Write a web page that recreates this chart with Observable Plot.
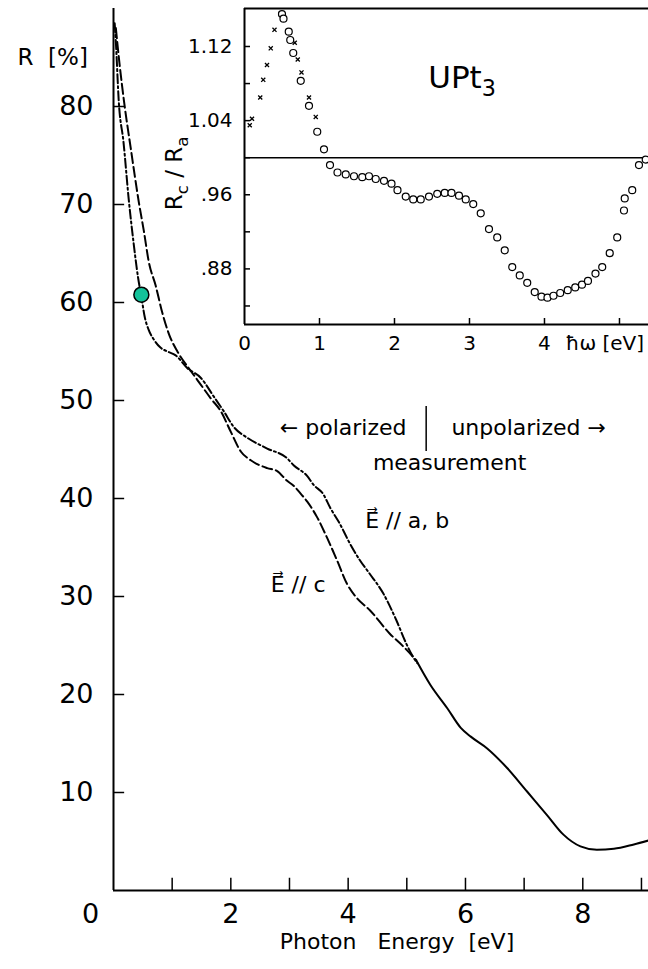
<!DOCTYPE html>
<html>
<head>
<meta charset="utf-8">
<script src="https://cdn.jsdelivr.net/npm/d3@7"></script>
<script src="https://cdn.jsdelivr.net/npm/@observablehq/plot@0.6"></script>
<style>
  html, body { margin: 0; padding: 0; background: #fff; }
  #figure { position: relative; width: 648px; height: 969px; overflow: hidden; background: #fff; }
  #figure svg { position: absolute; top: 0; }
</style>
</head>
<body>
<div id="figure"></div>
<script>
// Reflectivity of UPt3, R [%] versus photon energy [eV]
// E // a,b  (polarized, dash-dot)
const energyAB = [0.02, 0.04, 0.09, 0.17, 0.26, 0.34, 0.42, 0.475, 0.53, 0.60, 0.69, 0.80, 0.92, 1.06, 1.26, 1.49, 1.71, 1.88, 2.05, 2.28, 2.62, 2.96, 3.07, 3.30, 3.41, 3.58, 3.69, 3.86, 4.03, 4.20, 4.37, 4.60, 4.82, 4.99, 5.11, 5.18];
const reflAB   = [88.5, 86.6, 80.5, 76.4, 70.5, 66.2, 62.5, 60.6, 58.6, 57.2, 56.2, 55.4, 55.0, 54.6, 53.3, 52.3, 50.4, 48.9, 47.3, 46.2, 45.1, 44.1, 43.4, 42.3, 41.4, 40.4, 39.1, 37.4, 35.4, 33.7, 32.3, 30.3, 27.6, 25.2, 23.8, 23.2];
// E // c  (polarized, dashed)
const energyC = [0.04, 0.10, 0.18, 0.30, 0.43, 0.52, 0.60, 0.72, 0.83, 0.95, 1.09, 1.32, 1.49, 1.66, 1.83, 2.00, 2.17, 2.34, 2.62, 2.79, 2.96, 3.07, 3.19, 3.30, 3.47, 3.64, 3.81, 3.98, 4.14, 4.37, 4.71, 4.94, 5.16];
const reflC   = [88.0, 84.5, 80.5, 75.5, 70.3, 67.2, 64.2, 61.7, 59.0, 56.7, 55.0, 53.0, 51.6, 50.2, 48.9, 46.8, 44.8, 43.9, 43.1, 42.8, 41.8, 41.3, 40.5, 39.7, 38.1, 36.0, 33.7, 31.3, 29.9, 28.6, 26.2, 24.9, 23.5];
// unpolarized measurement (solid)
const energyUnpol = [5.16, 5.40, 5.69, 5.92, 6.09, 6.37, 6.71, 7.05, 7.39, 7.67, 7.96, 8.24, 8.53, 8.87, 9.12];
const reflUnpol   = [23.5, 21.0, 18.6, 16.6, 15.7, 14.5, 12.5, 10.1, 7.7, 5.7, 4.5, 4.15, 4.25, 4.7, 5.1];
// highlighted point
const markerEnergy = [0.475];
const markerRefl = [60.8];

// Inset: Rc / Ra versus photon energy
const ratioEnergy = [0.50, 0.52, 0.59, 0.61, 0.65, 0.75, 0.86, 0.97, 1.06, 1.14, 1.24, 1.35, 1.46, 1.57, 1.66, 1.75, 1.86, 1.96, 2.04, 2.15, 2.25, 2.35, 2.46, 2.57, 2.67, 2.76, 2.86, 2.95, 3.05, 3.15, 3.26, 3.37, 3.47, 3.57, 3.67, 3.77, 3.87, 3.96, 4.04, 4.12, 4.21, 4.31, 4.41, 4.50, 4.58, 4.68, 4.77, 4.87, 4.97, 5.06, 5.07, 5.17, 5.26, 5.35];
const ratioValue  = [1.155, 1.150, 1.136, 1.127, 1.113, 1.083, 1.056, 1.028, 1.009, 0.992, 0.984, 0.982, 0.980, 0.979, 0.980, 0.977, 0.975, 0.972, 0.965, 0.958, 0.955, 0.955, 0.958, 0.961, 0.962, 0.962, 0.959, 0.955, 0.950, 0.940, 0.923, 0.914, 0.900, 0.882, 0.873, 0.865, 0.855, 0.850, 0.849, 0.851, 0.854, 0.857, 0.860, 0.863, 0.867, 0.875, 0.882, 0.897, 0.914, 0.943, 0.956, 0.965, 0.992, 0.998];
const ratioLowEnergy = [0.07, 0.10, 0.21, 0.25, 0.30, 0.35, 0.40, 0.48, 0.67, 0.71, 0.76, 0.86, 0.95];
const ratioLowValue  = [1.035, 1.042, 1.065, 1.084, 1.100, 1.118, 1.138, 1.155, 1.124, 1.106, 1.092, 1.065, 1.044];

// ticks and tick labels
const xTicks = [1, 2, 3, 4, 5, 6, 7, 8, 9];
const xTickLabels = [2, 4, 6, 8];
const yTicks = [10, 20, 30, 40, 50, 60, 70, 80];
const insetXTicks = [1, 2, 3, 4, 5];
const insetXTickLabels = [0, 1, 2, 3, 4];
const insetYTicks = [0.84, 0.88, 0.92, 0.96, 1.00, 1.04, 1.08, 1.12];
const insetYTickLabels = [1.12, 1.04, 0.96, 0.88];

const font = "DejaVu Sans, Verdana, sans-serif";
const rows = (xs, ys) => xs.map((x, i) => ({x, y: ys[i]}));
const ratioFormat = d => d >= 1 ? d.toFixed(2) : d.toFixed(2).slice(1);
const k = v => () => v;

const main = Plot.plot({
  width: 648,
  height: 969,
  marginTop: 8,
  marginRight: 0,
  marginBottom: 79,
  marginLeft: 113,
  x: {domain: [0, 9.12], axis: null},
  y: {domain: [0, 90], axis: null},
  style: {fontFamily: font, background: "transparent", color: "black", overflow: "visible"},
  marks: [
    // axes with inward ticks
    Plot.ruleY([0], {y: d => d, strokeWidth: 2}),
    Plot.ruleX([0], {x: d => d, strokeWidth: 2}),
    Plot.ruleX(xTicks, {x: d => d, y1: k(0), y2: k(1.25), strokeWidth: 1.5}),
    Plot.ruleY(yTicks, {y: d => d, x1: k(0), x2: k(0.19), strokeWidth: 1.5}),
    Plot.text(xTickLabels, {x: d => d, y: k(0), dy: 24, text: String, fontSize: 27}),
    Plot.text([0], {x: d => d, y: d => d, dx: -23, dy: 24, text: String, fontSize: 27}),
    Plot.text(yTicks, {x: k(0), y: d => d, dx: -20, textAnchor: "end", text: String, fontSize: 27}),
    Plot.text(["R\u00a0\u00a0[%]"], {frameAnchor: "top-left", dx: -96, dy: 40, textAnchor: "start", fontSize: 23, text: d => d}),
    Plot.text(["Photon\u00a0\u00a0\u00a0Energy\u00a0\u00a0[eV]"], {frameAnchor: "bottom", dx: 16, dy: 58, fontSize: 22, text: d => d}),

    // reflectivity curves
    Plot.line(rows(energyC, reflC), {x: "x", y: "y", strokeWidth: 2, strokeDasharray: "10,4", curve: "monotone-x"}),
    Plot.line(rows(energyAB, reflAB), {x: "x", y: "y", strokeWidth: 2, strokeDasharray: "9,3,2,3", curve: "monotone-x"}),
    Plot.line(rows(energyUnpol, reflUnpol), {x: "x", y: "y", strokeWidth: 2, curve: "monotone-x"}),
    Plot.dot(rows(markerEnergy, markerRefl), {x: "x", y: "y", r: 7.5, fill: "#14c29a", stroke: "black", strokeWidth: 1.5}),

    // annotations
    Plot.text(["\u2190 polarized"], {x: k(4.995), y: k(47.2), textAnchor: "end", fontSize: 22, text: d => d}),
    Plot.ruleX([5.33], {x: d => d, y1: k(44.8), y2: k(49.4), strokeWidth: 1.5}),
    Plot.text(["unpolarized \u2192"], {x: k(5.76), y: k(47.2), textAnchor: "start", fontSize: 22, text: d => d}),
    Plot.text(["measurement"], {x: k(5.73), y: k(43.6), fontSize: 22, text: d => d}),
    Plot.text(["E\u20d7 // a, b"], {x: k(4.29), y: k(37.7), textAnchor: "start", fontSize: 22, text: d => d}),
    Plot.text(["E\u20d7 // c"], {x: k(2.68), y: k(31.2), textAnchor: "start", fontSize: 22, text: d => d})
  ]
});

const inset = Plot.plot({
  width: 498,
  height: 360,
  marginTop: 8,
  marginRight: 0,
  marginBottom: 36,
  marginLeft: 94,
  x: {domain: [0, 5.387], axis: null},
  y: {domain: [0.82, 1.161], axis: null},
  style: {fontFamily: font, background: "transparent", color: "black", overflow: "visible"},
  marks: [
    Plot.ruleX([0], {x: d => d, strokeWidth: 2}),
    Plot.ruleY([0.82, 1.161], {y: d => d, strokeWidth: 2}),
    Plot.ruleY([1], {y: d => d, strokeWidth: 1.5}),
    Plot.ruleX(insetXTicks, {x: d => d, y1: k(0.82), y2: k(0.82 + 6 / 926), strokeWidth: 1.5}),
    Plot.ruleY(insetYTicks, {y: d => d, x1: k(0), x2: k(6 / 75), strokeWidth: 1.5}),
    Plot.text(insetXTickLabels, {x: d => d, y: k(0.82), dy: 19, fontSize: 20, text: String}),
    Plot.text(["\u0127\u03c9\u00a0[eV]"], {x: k(4.28), y: k(0.82), dy: 19, textAnchor: "start", fontSize: 20, text: d => d}),
    Plot.text(insetYTickLabels, {x: k(0), y: d => d, dx: -12, textAnchor: "end", fontSize: 20, text: ratioFormat}),
    Plot.text(["R_c / R_a"], {x: k(-0.827), y: k(0.983), rotate: -90, lineAnchor: "bottom", fontSize: 23, text: d => d}),
    Plot.text(["UPt_3"], {x: k(2.45), y: k(1.0748), textAnchor: "start", lineAnchor: "bottom", fontSize: 31, text: d => d}),
    Plot.dot(rows(ratioLowEnergy, ratioLowValue), {x: "x", y: "y", symbol: "times", r: 2, strokeWidth: 1.3}),
    Plot.dot(rows(ratioEnergy, ratioValue), {x: "x", y: "y", r: 3.5, stroke: "black", strokeWidth: 1.2, fill: "white"})
  ]
});

// turn "X_s" into a subscripted tspan
function subscripts(svg) {
  d3.select(svg).selectAll("text").each(function() {
    const t = this.textContent;
    if (!t.includes("_")) return;
    const parts = t.split(/_(.)/);
    const sel = d3.select(this).text(null);
    let shifted = false;
    parts.forEach((p, i) => {
      if (!p) return;
      const span = sel.append("tspan").text(p);
      if (i % 2) {
        span.attr("font-size", "0.72em").attr("dy", "0.35em");
        shifted = true;
      } else if (shifted) {
        span.attr("dy", "-0.252em");
        shifted = false;
      }
    });
  });
}
subscripts(inset);

const figure = document.getElementById("figure");
main.style.left = "0px";
inset.style.left = "150px";
figure.appendChild(main);
figure.appendChild(inset);
</script>
</body>
</html>
